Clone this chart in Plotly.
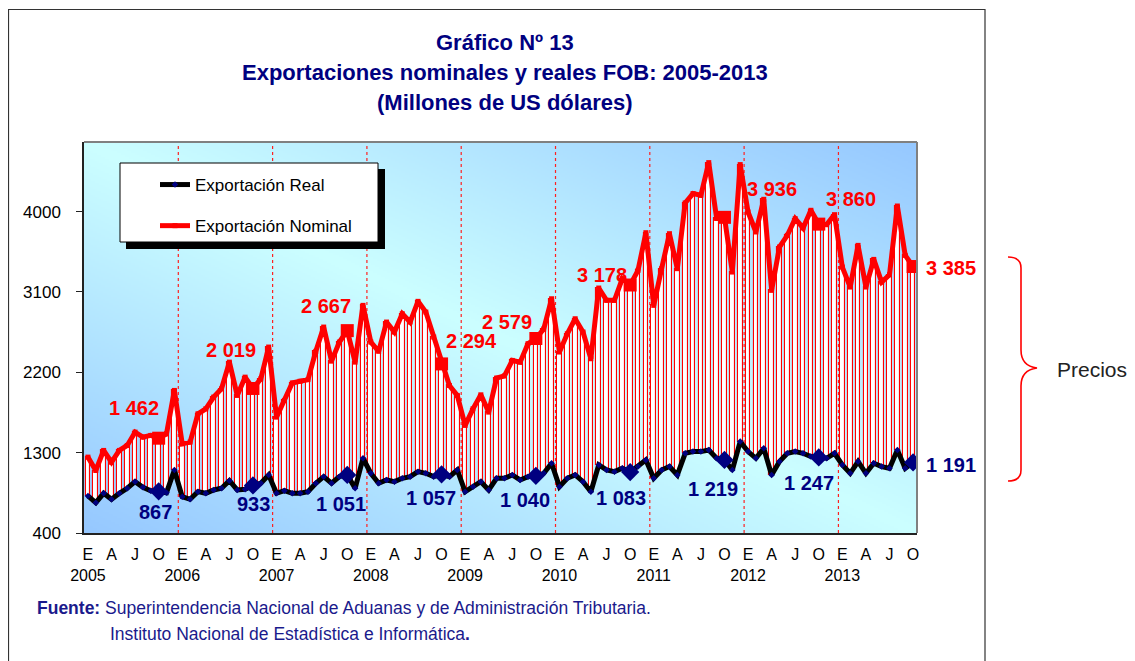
import zlib, struct, base64
import numpy as np
import plotly.graph_objects as go

# ---------------- data ----------------
years = list(range(2005, 2014))
month_letters = ["E", "F", "M", "A", "M", "J", "J", "A", "S", "O", "N", "D"]

nominal = [
    1250, 1100, 1325, 1193, 1325, 1381, 1530, 1474, 1493, 1462, 1511, 1997,   # 2005
    1399, 1418, 1735, 1791, 1922, 2015, 2314, 1941, 2146, 2019, 2127, 2483,   # 2006
    1698, 1885, 2080, 2100, 2118, 2435, 2707, 2325, 2539, 2667, 2314, 2950,   # 2007
    2539, 2435, 2763, 2651, 2856, 2763, 2995, 2875, 2595, 2294, 2053, 1941,   # 2008
    1605, 1791, 1948, 1754, 2135, 2160, 2333, 2314, 2520, 2579, 2685, 3024,   # 2009
    2427, 2632, 2800, 2651, 2352, 3144, 3006, 3006, 3249, 3178, 3342, 3764,   # 2010
    2950, 3361, 3753, 3361, 4097, 4202, 4183, 4549, 3925, 3936, 3323, 4527,   # 2011
    3996, 3772, 4138, 3118, 3604, 3734, 3921, 3817, 4015, 3860, 3855, 3966,   # 2012
    3379, 3155, 3622, 3155, 3465, 3211, 3293, 4063, 3510, 3385,               # 2013
]
real = [
    815, 740, 845, 778, 845, 901, 975, 912, 874, 867, 852, 1106,
    807, 778, 863, 845, 882, 901, 986, 882, 890, 933, 957, 1050,
    845, 874, 845, 845, 863, 957, 1031, 957, 1031, 1051, 901, 1237,
    1069, 957, 994, 975, 1013, 1031, 1087, 1069, 1031, 1057, 1031, 1106,
    863, 919, 975, 882, 1013, 1013, 1050, 994, 1031, 1040, 1069, 1181,
    919, 1013, 1050, 975, 863, 1162, 1106, 1087, 1125, 1083, 1144, 1218,
    1013, 1106, 1144, 1050, 1293, 1312, 1312, 1330, 1237, 1219, 1106, 1424,
    1312, 1237, 1349, 1050, 1200, 1293, 1312, 1293, 1256, 1247, 1237, 1293,
    1162, 1069, 1200, 1069, 1181, 1144, 1125, 1330, 1125, 1191,
]
y_ticks = [400, 1300, 2200, 3100, 4000]

months = list(range(len(nominal)))
oct_idx = [i for i in months if i % 12 == 9]          # labelled points (October)
spread = [n_ - r_ for n_, r_ in zip(nominal, real)]

def fmt(v):
    return f"{v:,}".replace(",", " ")

tickvals = months[::3]
ticktext = [f"{month_letters[i % 12]}<br>{years[i // 12]}" if i % 12 == 0 else month_letters[i % 12]
            for i in tickvals]

# ---------------- layout helpers ----------------
# page body has an 8px default margin: work in window pixels, shift by OFF
OFF = 8
W, H = 1135 - OFF, 661 - OFF
L, R, T, B = 84, 917, 142, 533            # plot area in window pixels
def px(x):
    return (x - L) / (R - L)
def py(y):
    return (B - y) / (B - T)

FONT = "Liberation Sans, Arial, sans-serif"
NAVY = "#000080"
RED = "#ff0000"

# gradient background for the plot area (PNG data uri)
def png_uri(arr):
    h, w, _ = arr.shape
    raw = b"".join(b"\x00" + arr[r].tobytes() for r in range(h))
    def chunk(t, d):
        c = struct.pack(">I", len(d)) + t + d
        return c + struct.pack(">I", zlib.crc32(t + d) & 0xffffffff)
    png = (b"\x89PNG\r\n\x1a\n"
           + chunk(b"IHDR", struct.pack(">IIBBBBB", w, h, 8, 2, 0, 0, 0))
           + chunk(b"IDAT", zlib.compress(raw, 9))
           + chunk(b"IEND", b""))
    return "data:image/png;base64," + base64.b64encode(png).decode()

gw, gh = 417, 196
xx, yy = np.meshgrid(np.linspace(0, 1, gw), np.linspace(0, 1, gh))
t = np.abs(xx - yy)[..., None]
light = np.array([204, 255, 255], float)
blue = np.array([150, 200, 255], float)
grad = (light + (blue - light) * t).clip(0, 255).astype(np.uint8)
bg_uri = png_uri(grad)

# ---------------- traces ----------------
fig = go.Figure()

fig.add_trace(go.Bar(
    x=months, y=spread, base=real, width=0.6,
    marker=dict(color="white", line=dict(color=RED, width=1.1)),
    showlegend=False, hoverinfo="skip",
))
fig.add_trace(go.Scatter(
    x=months, y=real, mode="lines+markers", name="Exportación Real",
    line=dict(color="black", width=5),
    marker=dict(symbol="diamond", size=5, color=NAVY),
    legendgroup="r", legendrank=1,
))
fig.add_trace(go.Scatter(
    x=months, y=nominal, mode="lines+markers", name="Exportación Nominal",
    line=dict(color=RED, width=5),
    marker=dict(symbol="square", size=5, color=RED),
    legendgroup="n", legendrank=2,
))
fig.add_trace(go.Scatter(
    x=oct_idx, y=[real[i] for i in oct_idx], mode="markers",
    marker=dict(symbol="diamond", size=14, color=NAVY),
    showlegend=False, hoverinfo="skip",
))
fig.add_trace(go.Scatter(
    x=oct_idx, y=[nominal[i] for i in oct_idx], mode="markers",
    marker=dict(symbol="square", size=13, color=RED),
    showlegend=False, hoverinfo="skip",
))

# ---------------- annotations ----------------
ann = []
nom_shift = [(-25, 30), (-22, 38), (-21, 25), (30, 23), (-29, 16), (-28, 10), (48, 28), (32, 25), (38, -1)]
real_shift = [(-3, -21), (1, -19), (-6, -29), (-11, -24), (-11, -24), (-9, -26), (-11, -29), (-10, -26), (38, -3)]
for k, i in enumerate(oct_idx):
    ann.append(dict(x=i, y=nominal[i], xref="x", yref="y", text=f"<b>{fmt(nominal[i])}</b>",
                    showarrow=False, xshift=nom_shift[k][0], yshift=nom_shift[k][1],
                    font=dict(family=FONT, size=20, color=RED)))
    ann.append(dict(x=i, y=real[i], xref="x", yref="y", text=f"<b>{fmt(real[i])}</b>",
                    showarrow=False, xshift=real_shift[k][0], yshift=real_shift[k][1],
                    font=dict(family=FONT, size=20, color=NAVY)))

titles = ["Gráfico Nº 13", "Exportaciones nominales y reales FOB: 2005-2013", "(Millones de US dólares)"]
for txt, yc in zip(titles, [43, 73, 103]):
    ann.append(dict(x=px(505), y=py(yc), xref="paper", yref="paper", text=f"<b>{txt}</b>",
                    showarrow=False, xanchor="center", yanchor="middle",
                    font=dict(family=FONT, size=22, color=NAVY)))

ann.append(dict(x=px(35), y=py(608), xref="paper", yref="paper", xanchor="left", yanchor="middle",
                showarrow=False,
                text="<b>Fuente:</b> Superintendencia Nacional de Aduanas y de Administración Tributaria.",
                font=dict(family=FONT, size=17.5, color="#1a1a8c")))
ann.append(dict(x=px(108), y=py(634), xref="paper", yref="paper", xanchor="left", yanchor="middle",
                showarrow=False,
                text="Instituto Nacional de Estadística e Informática<b>.</b>",
                font=dict(family=FONT, size=17.5, color="#1a1a8c")))
ann.append(dict(x=px(1055), y=py(369), xref="paper", yref="paper", xanchor="left", yanchor="middle",
                showarrow=False, text="Precios",
                font=dict(family=FONT, size=21, color="#222222")))

# ---------------- shapes ----------------
shapes = []
for yi in range(1, len(years)):
    xb = yi * 12 - 0.5
    shapes.append(dict(type="line", xref="x", yref="paper", x0=xb, x1=xb, y0=0, y1=1,
                       line=dict(color="#ff2020", width=1.2, dash="dot"), layer="below"))
shapes.append(dict(type="line", xref="paper", yref="paper", x0=0, x1=1, y0=1, y1=1,
                   line=dict(color="#808080", width=2)))
shapes.append(dict(type="line", xref="paper", yref="paper", x0=1, x1=1, y0=0, y1=1,
                   line=dict(color="#808080", width=2)))
# outer frame
shapes.append(dict(type="path", xref="paper", yref="paper",
                   path=f"M {px(8.5)},{py(700)} L {px(8.5)},{py(9.5)} L {px(985)},{py(9.5)} L {px(985)},{py(700)}",
                   line=dict(color="#333333", width=1.2)))
# legend box with shadow
shapes.append(dict(type="rect", xref="paper", yref="paper", x0=px(126), x1=px(385), y0=py(249), y1=py(169),
                   fillcolor="black", line=dict(width=0)))
shapes.append(dict(type="rect", xref="paper", yref="paper", x0=px(120), x1=px(378), y0=py(242), y1=py(163),
                   fillcolor="white", line=dict(color="black", width=1)))
# brace
bpts = "M {},{} Q {},{} {},{} L {},{} Q {},{} {},{} Q {},{} {},{} L {},{} Q {},{} {},{}".format(
    px(1008), py(257), px(1021), py(257), px(1021), py(268), px(1021), py(350),
    px(1021), py(366), px(1037), py(368), px(1021), py(370), px(1021), py(386),
    px(1021), py(470), px(1021), py(481), px(1008), py(481))
shapes.append(dict(type="path", xref="paper", yref="paper", path=bpts, line=dict(color=RED, width=1.6)))

# ---------------- layout ----------------
fig.update_layout(
    width=W, height=H,
    margin=dict(l=L - OFF, r=W - (R - OFF), t=T - OFF, b=H - (B - OFF), pad=0),
    paper_bgcolor="white", plot_bgcolor="#c8f4ff",
    font=dict(family=FONT, color="black"),
    showlegend=True,
    legend=dict(x=px(155), y=py(167), xanchor="left", yanchor="top",
                bgcolor="rgba(0,0,0,0)", borderwidth=0, tracegroupgap=16,
                font=dict(family=FONT, size=17, color="black")),
    xaxis=dict(range=[-0.5, len(months) - 0.5], tickvals=tickvals, ticktext=ticktext,
               showgrid=False, zeroline=False, showline=True, linecolor="#222222", linewidth=1.5,
               ticks="", tickfont=dict(family=FONT, size=16, color="black"), tickangle=0,
               ticklabelstandoff=6),
    yaxis=dict(range=[400, 4780], tickvals=y_ticks, showgrid=False, zeroline=False,
               showline=True, linecolor="#222222", linewidth=1.5,
               ticks="outside", ticklen=6, tickcolor="#222222",
               tickfont=dict(family=FONT, size=17, color="black"), ticklabelstandoff=12),
    annotations=ann, shapes=shapes,
    images=[dict(source=bg_uri, xref="paper", yref="paper", x=0, y=1, sizex=1, sizey=1,
                 sizing="stretch", xanchor="left", yanchor="top", layer="below")],
    bargap=0,
)

fig.write_html("out.html")
